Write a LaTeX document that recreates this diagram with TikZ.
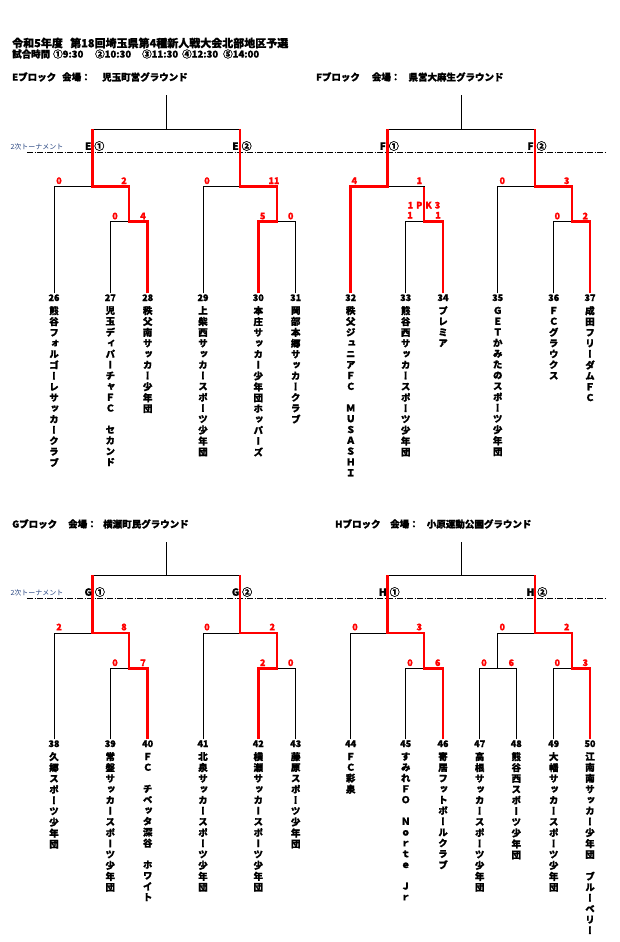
\documentclass[tikz,border=0pt]{standalone}
\usepackage{fontspec}
\setmainfont{Noto Sans CJK JP}[BoldFeatures={FakeBold=1.2}]
\newfontfamily\tatefont{Noto Sans CJK JP}[RawFeature={+vert}, BoldFeatures={FakeBold=1.2}]
\usetikzlibrary{positioning}
\definecolor{kachi}{RGB}{255,0,0}
\definecolor{nijiiro}{RGB}{40,70,130}
\makeatletter
\newcommand\tate[1]{\edef\tate@list{#1}\def\tate@do{\@tfor\tate@c:=}%
  \vbox{\offinterlineskip\expandafter\tate@do\tate@list\do{%
    \hbox to 12pt{\hss\vrule height 7.9pt depth 2.9pt width 0pt\tate@c\hss}}}}
\makeatother

\begin{document}
\begin{tikzpicture}[x=1pt, y=-1pt,
  lose/.style={line width=0.8pt},
  win/.style={draw=kachi, line width=2.6pt},
  kiri/.style={line width=0.6pt, dash pattern=on 6pt off 1.5pt on 1pt off 1.5pt},
  score/.style={text=kachi, font=\bfseries\fontsize{9}{9}\selectfont, inner sep=0pt, anchor=base},
  num/.style={font=\bfseries\fontsize{9}{9}\selectfont, text height=6.5pt, text depth=0pt, inner xsep=0pt, inner ysep=1pt, anchor=base},
  tname/.style={font=\tatefont\bfseries\fontsize{9.5}{10}\selectfont, inner sep=0pt},
  blockhead/.style={font=\bfseries\fontsize{9.5}{10}\selectfont, inner sep=0pt, anchor=west},
  match/.style={font=\bfseries\fontsize{10}{10}\selectfont, inner sep=0pt},
  niji/.style={text=nijiiro, font=\fontsize{7}{7}\selectfont, inner sep=0pt}]
\fill[white] (0,0) rectangle (619,942);
\useasboundingbox (0,0) rectangle (619,942);

% titles
\node[blockhead, font=\bfseries\fontsize{11}{11}\selectfont] (ti1) at (12,43) {令和5年度};
\node[blockhead, font=\bfseries\fontsize{11}{11}\selectfont] (ti2) at (70,43) {第18回埼玉県第4種新人戦大会北部地区予選};
\foreach \i/\x/\t in {0/12/試合時間,1/53/①9:30,2/95/②10:30,3/142/③11:30,4/182/④12:30,5/223/⑤14:00}
  \node[blockhead] (jk\i) at (\x,54) {\t};

\node[blockhead] (hE1) at (12,77) {Eブロック};
\node[blockhead] (hE2) at (62,77) {会場：};
\node[blockhead] (hE3) at (102,77) {児玉町営グラウンド};
\node[blockhead] (hF1) at (316,77) {Fブロック};
\node[blockhead] (hF2) at (371.7,77) {会場：};
\node[blockhead] (hF3) at (408.3,77) {県営大麻生グラウンド};
\node[blockhead] (hG1) at (12,524) {Gブロック};
\node[blockhead] (hG2) at (68,524) {会場：};
\node[blockhead] (hG3) at (103,524) {横瀬町民グラウンド};
\node[blockhead] (hH1) at (335,524) {Hブロック};
\node[blockhead] (hH2) at (390,524) {会場：};
\node[blockhead] (hH3) at (426.7,524) {小原運動公園グラウンド};

% teams
\foreach \n/\x/\s in {26/54/熊谷フォルゴーレサッカークラブ,27/110.3/児玉ディパーチャＦＣ　セカンド,28/147.7/秩父南サッカー少年団,29/203/上柴西サッカースポーツ少年団,30/258.3/本庄サッカー少年団ホッパーズ,31/295.7/岡部本郷サッカークラブ,32/350.7/秩父ジュニアＦＣ　ＭＵＳＡＳＨＩ,33/405.7/熊谷西サッカースポーツ少年団,34/443/プレミア,35/497.7/ＧＥＴかみたのスポーツ少年団,36/553.7/ＦＣグラウクス,37/590/成田フリーダムＦＣ}{
  \node[num] (n\n) at (\x,301) {\n};
  \node[tname, below=3.7pt of n\n] (m\n) {\tate{\s}};
}
\foreach \n/\x/\s in {38/54/久郷スポーツ少年団,39/110.3/常盤サッカースポーツ少年団,40/147.7/ＦＣ　チベッタ深谷　ホワイト,41/203/北泉サッカースポーツ少年団,42/258.3/横瀬サッカースポーツ少年団,43/295.7/藤原スポーツ少年団,44/350.7/ＦＣ彩泉,45/405.7/すみれＦＯ　Ｎｏｒｔｅ　Ｊｒ,46/443/寄居フットボールクラブ,47/479.7/高根サッカースポーツ少年団,48/516.3/熊谷西スポーツ少年団,49/553.7/大幡サッカースポーツ少年団,50/590/江南南サッカー少年団　ブルーベリー}{
  \node[num] (n\n) at (\x,747) {\n};
  \node[tname, below=3.7pt of n\n] (m\n) {\tate{\s}};
}

% bracket points
\coordinate (Etop) at (166.3,95);
\coordinate (Emid) at (166.3,129);
\coordinate (E1) at (92.7,129);
\coordinate (E2) at (240,129);
\coordinate (e1) at (92.7,186.7);
\coordinate (e1b) at (129,221.7);
\coordinate (e2) at (240,186.7);
\coordinate (e2b) at (277,221.7);
\coordinate (Ftop) at (461.7,95);
\coordinate (Fmid) at (461.7,129);
\coordinate (F1) at (387.3,129);
\coordinate (F2) at (535,129);
\coordinate (f1) at (387.3,186.7);
\coordinate (f1b) at (424,221.7);
\coordinate (f2) at (535,186.7);
\coordinate (f2b) at (572,221.7);
\coordinate (Gtop) at (166.3,542);
\coordinate (Gmid) at (166.3,575);
\coordinate (G1) at (92.7,575);
\coordinate (G2) at (240,575);
\coordinate (g1) at (92.7,633);
\coordinate (g1b) at (129,668.5);
\coordinate (g2) at (240,633);
\coordinate (g2b) at (277,668.5);
\coordinate (Htop) at (461.7,542);
\coordinate (Hmid) at (461.7,575);
\coordinate (H1) at (387.3,575);
\coordinate (H2) at (535,575);
\coordinate (h1) at (387.3,633);
\coordinate (h1b) at (424,668.5);
\coordinate (h2) at (535,633);
\coordinate (h2a) at (497.7,668.5);
\coordinate (h2b) at (572,668.5);
\coordinate (k1l) at (27,152.3);
\coordinate (k1r) at (607,152.3);
\coordinate (k2l) at (27,598.3);
\coordinate (k2r) at (607,598.3);

\draw[kiri] (k1l) -- (k1r);
\draw[kiri] (k2l) -- (k2r);
\node[niji] (nj1) at (37,146.7) {2次トーナメント};
\node[niji] (nj2) at (37,593) {2次トーナメント};

\draw[lose] (Etop) -- (Emid);
\draw[lose] (E1) -- (E2);
\draw[lose] (n26.north) |- (e1);
\draw[lose] (n27.north) |- (e1b);
\draw[lose] (n29.north) |- (e2);
\draw[lose] (n31.north) |- (e2b);
\draw[lose] (Ftop) -- (Fmid);
\draw[lose] (F1) -- (F2);
\draw[lose] (n33.north) |- (f1b);
\draw[lose] (f1b) |- (f1);
\draw[lose] (n35.north) |- (f2);
\draw[lose] (n36.north) |- (f2b);
\draw[lose] (Gtop) -- (Gmid);
\draw[lose] (G1) -- (G2);
\draw[lose] (n38.north) |- (g1);
\draw[lose] (n39.north) |- (g1b);
\draw[lose] (n41.north) |- (g2);
\draw[lose] (n43.north) |- (g2b);
\draw[lose] (Htop) -- (Hmid);
\draw[lose] (H1) -- (H2);
\draw[lose] (n44.north) |- (h1);
\draw[lose] (n45.north) |- (h1b);
\draw[lose] (n47.north) |- (h2a);
\draw[lose] (n48.north) |- (h2a);
\draw[lose] (h2a) |- (h2);
\draw[lose] (n49.north) |- (h2b);

\draw[win] (n28.north) |- (e1b) |- (e1) -- (E1);
\draw[win] (n30.north) |- (e2b) |- (e2) -- (E2);
\draw[win] (n32.north) |- (f1) -- (F1);
\draw[win] (n34.north) |- (f1b) -- (f1b |- f1);
\draw[win] (n37.north) |- (f2b) |- (f2) -- (F2);
\draw[win] (n40.north) |- (g1b) |- (g1) -- (G1);
\draw[win] (n42.north) |- (g2b) |- (g2) -- (G2);
\draw[win] (n46.north) |- (h1b) |- (h1) -- (H1);
\draw[win] (n50.north) |- (h2b) |- (h2) -- (H2);

\node[match] (mE1) at (94.7,146) {E\hspace{3pt}①};
\node[match] (mE2) at (242,146) {E\hspace{3pt}②};
\node[match] (mF1) at (389.3,146) {F\hspace{3pt}①};
\node[match] (mF2) at (537,146) {F\hspace{3pt}②};
\node[match] (mG1) at (94.7,592) {G\hspace{3pt}①};
\node[match] (mG2) at (242,592) {G\hspace{3pt}②};
\node[match] (mH1) at (389.3,592) {H\hspace{3pt}①};
\node[match] (mH2) at (537,592) {H\hspace{3pt}②};

% scores
\foreach \i/\x/\y/\t in {1/59/184/0,2/124/184/2,3/115/219.3/0,4/143/219.3/4,5/207/184/0,6/274/184/11,7/262.7/219.3/5,8/290.7/219.3/0,
  9/354.3/184/4,10/419.3/184/1,11/410/218.5/1,12/438/218.5/1,13/502.3/184/0,14/566.7/184/3,15/557.3/219.3/0,16/585.3/219.3/2,
  17/59/630.3/2,18/124/630.3/8,19/115/666/0,20/143/666/7,21/207/630.3/0,22/272.3/630.3/2,23/262.7/666/2,24/290.7/666/0,
  25/355/630.3/0,26/419.3/630.3/3,27/410/666/0,28/437.7/666/6,29/502.3/630.3/0,30/566.7/630.3/2,31/484/666/0,32/511.3/666/6,33/557.3/666/0,34/585.3/666/3}
  \node[score] (sc\i) at (\x,\y) {\t};
\node[score] (pk) at (424,208.5) {1\hspace{3pt}P\hspace{3pt}K\hspace{3pt}3};
\end{tikzpicture}
\end{document}
